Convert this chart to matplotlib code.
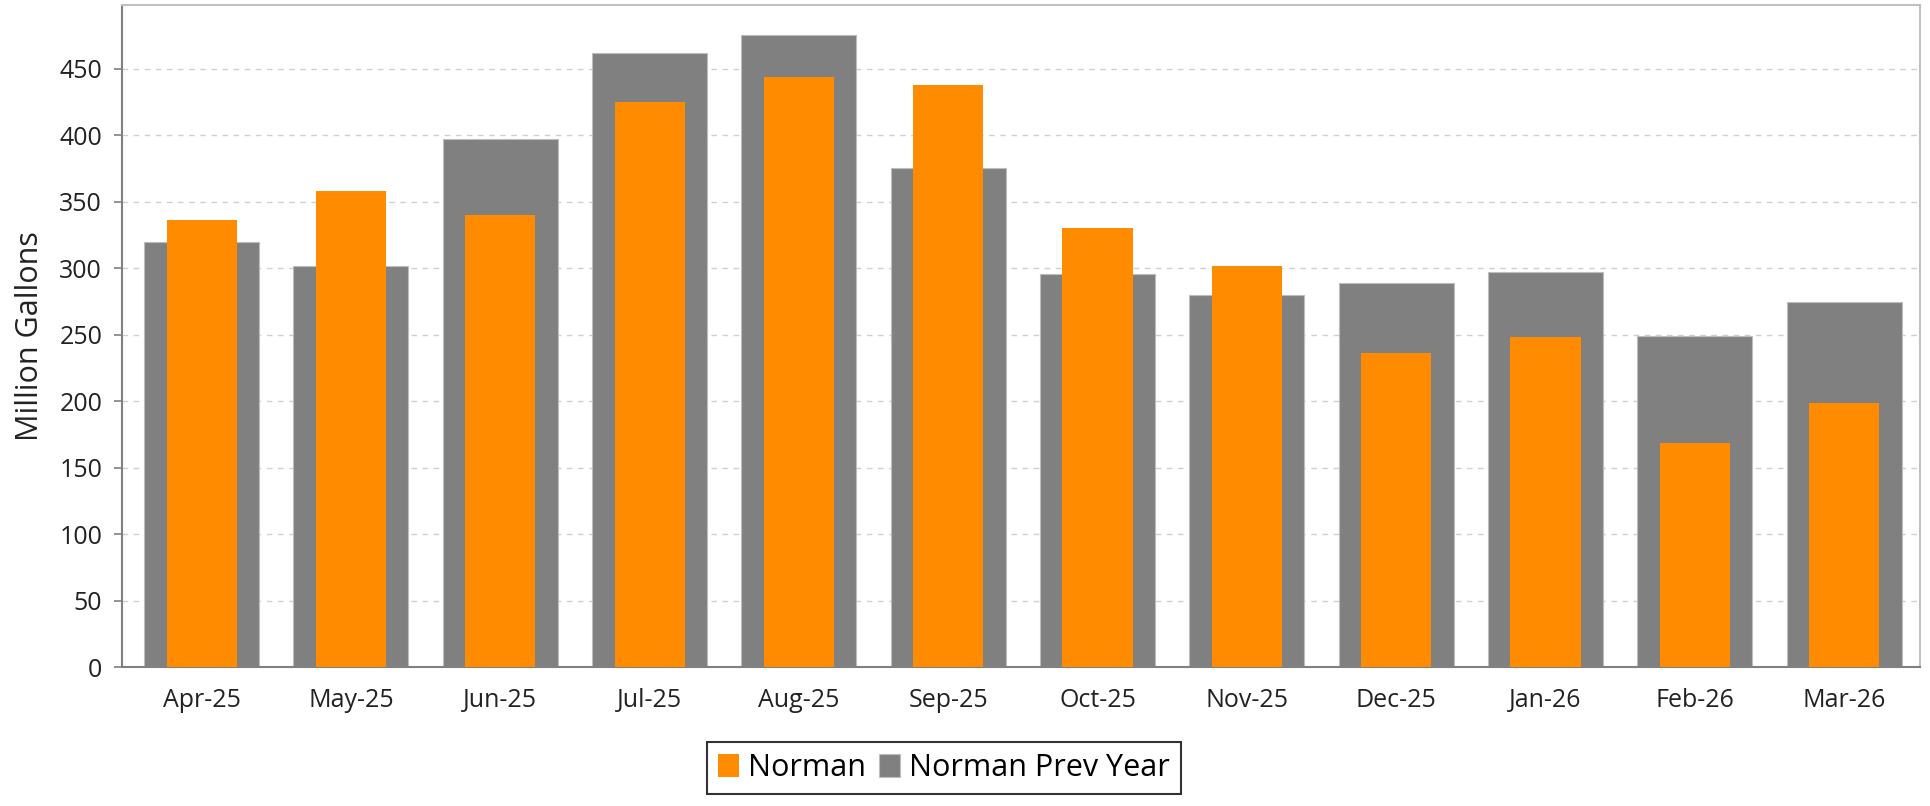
import matplotlib.pyplot as plt
import numpy as np

plt.rcParams['font.family'] = ['Open Sans', 'DejaVu Sans']

months = ['Apr-25', 'May-25', 'Jun-25', 'Jul-25', 'Aug-25', 'Sep-25',
          'Oct-25', 'Nov-25', 'Dec-25', 'Jan-26', 'Feb-26', 'Mar-26']
norman = [336, 358, 340, 425, 444, 438, 330, 302, 236, 248, 169, 199]
norman_prev = [320, 302, 397, 462, 475, 375, 296, 280, 289, 297, 249, 275]
yticks = [0, 50, 100, 150, 200, 250, 300, 350, 400, 450]

orange = '#FF8C00'
gray = '#808080'

fig = plt.figure(figsize=(19.3, 8.06), dpi=100)
ax = fig.add_axes([0.063, 0.172, 0.932, 0.822])

x = np.arange(len(months))
ax.bar(x, norman_prev, width=0.77, color=gray, label='Norman Prev Year', zorder=2,
       edgecolor='#bdbdbd', linewidth=0.8)
ax.bar(x, norman, width=0.47, color=orange, label='Norman', zorder=3)

# bars sit a little right of centre in the original
ax.set_xlim(-0.536, len(months) - 0.49)
ax.set_ylim(0, 498)
ax.set_yticks(yticks)
ax.set_xticks(x)
ax.set_xticklabels(months)
ax.tick_params(axis='x', length=0, pad=15, labelsize=18, colors='#222222')
ax.tick_params(axis='y', length=6, width=1.2, color='#808080', pad=8,
               labelsize=18, labelcolor='#222222')
ax.set_ylabel('Million Gallons', fontsize=22, color='#222222', labelpad=10)

ax.grid(axis='y', color='#d0d0d0', linestyle=(0, (4, 4)), linewidth=1, zorder=0)
ax.set_axisbelow(True)

for side in ['left', 'bottom']:
    ax.spines[side].set_color('#808080')
    ax.spines[side].set_linewidth(1.5)
for side in ['top', 'right']:
    ax.spines[side].set_color('#c0c0c0')
    ax.spines[side].set_linewidth(1.5)

handles, labels = ax.get_legend_handles_labels()
leg = fig.legend(handles[::-1], labels[::-1], loc='center',
                 bbox_to_anchor=(0.489, 0.047), ncol=2, fontsize=22,
                 frameon=True, fancybox=False, handlelength=0.7,
                 handleheight=0.8, handletextpad=0.3, columnspacing=0.4,
                 borderpad=0.35)
leg.get_frame().set_edgecolor('black')
leg.get_frame().set_linewidth(1.5)

fig.savefig('out.png', dpi=100)
